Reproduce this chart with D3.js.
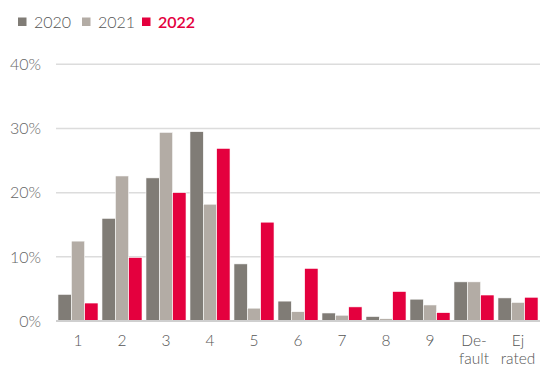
<!DOCTYPE html>
<html>
<head>
<meta charset="utf-8">
<script src="https://cdn.jsdelivr.net/npm/d3@7"></script>
<style>
  html, body { margin: 0; padding: 0; background: #fff; }
  svg { display: block; font-family: "Lato", "Open Sans", sans-serif; }
</style>
</head>
<body>
<svg id="chart" width="540" height="365"></svg>
<script>
// Rating categories (label lines) and share per year, in percent
const categories = [["1"], ["2"], ["3"], ["4"], ["5"], ["6"], ["7"], ["8"], ["9"], ["De-", "fault"], ["Ej", "rated"]];
const years = ["2020", "2021", "2022"];
const values2020 = [4.15, 16.0, 22.3, 29.5, 8.9, 3.1, 1.25, 0.7, 3.4, 6.1, 3.6];
const values2021 = [12.45, 22.6, 29.4, 18.2, 2.0, 1.45, 0.9, 0.35, 2.5, 6.1, 2.9];
const values2022 = [2.8, 9.9, 20.0, 26.9, 15.4, 8.2, 2.2, 4.6, 1.3, 4.05, 3.7];
const yTicks = [0, 10, 20, 30, 40];

const colors = { "2020": "#807c76", "2021": "#b3aca5", "2022": "#e4003e" };
const series = { "2020": values2020, "2021": values2021, "2022": values2022 };

const svg = d3.select("#chart");
const margin = { left: 56, right: 0 };
const width = 540;
const plotBottom = 321, plotTop = 64.3;

const keys = categories.map((c, i) => "c" + i);
const x0 = d3.scaleBand().domain(keys).range([margin.left, width - margin.right])
  .paddingInner(0.09).paddingOuter(0.045);
const x1 = d3.scaleBand().domain(years).range([0, x0.bandwidth()]);
const y = d3.scaleLinear().domain([0, 40]).range([plotBottom, plotTop]);

// Gridlines
svg.append("g").selectAll("line").data(yTicks.filter(t => t > 0)).join("line")
  .attr("x1", margin.left).attr("x2", width)
  .attr("y1", d => y(d)).attr("y2", d => y(d))
  .attr("stroke", "#dcdcdc").attr("stroke-width", 1.5);

// Y tick labels
svg.append("g").selectAll("text").data(yTicks).join("text")
  .attr("x", 41).attr("y", d => y(d)).attr("dy", "0.36em")
  .attr("text-anchor", "end").attr("fill", "#666")
  .attr("font-size", 16).attr("font-weight", 300)
  .text(d => d + "%");

// Bars
const groups = svg.append("g").selectAll("g").data(keys).join("g")
  .attr("transform", d => `translate(${x0(d)},0)`);
groups.selectAll("rect").data((d, i) => years.map(yr => ({ yr, v: series[yr][i] }))).join("rect")
  .attr("x", d => x1(d.yr)).attr("width", x1.bandwidth())
  .attr("y", d => y(d.v)).attr("height", d => y(0) - y(d.v))
  .attr("fill", d => colors[d.yr])
  .attr("stroke", "#fff").attr("stroke-width", 0.6);

// Baseline
svg.append("line").attr("x1", margin.left).attr("x2", width)
  .attr("y1", y(0)).attr("y2", y(0))
  .attr("stroke", "#cfcfcf").attr("stroke-width", 2);

// X tick labels, one text per line
const lineData = [];
categories.forEach((c, i) => c.forEach((t, j) => lineData.push({ t, j, cx: x0(keys[i]) + x0.bandwidth() / 2 })));
svg.append("g").selectAll("text").data(lineData).join("text")
  .attr("x", d => d.cx)
  .attr("y", d => d.j === 0 ? 345.5 : 363.5)
  .attr("text-anchor", "middle")
  .attr("fill", "#555").attr("font-size", 15.5).attr("font-weight", 300)
  .text(d => d.t);

// Legend
const legendX = [18, 82, 142];
const lg = svg.append("g").selectAll("g").data(years).join("g")
  .attr("transform", (d, i) => `translate(${legendX[i]},0)`);
lg.append("rect").attr("x", 0).attr("y", 17.5).attr("width", 8.5).attr("height", 8.5)
  .attr("fill", d => colors[d]);
lg.append("text").attr("x", 16).attr("y", 28)
  .attr("font-size", 16)
  .attr("font-weight", d => d === "2022" ? 600 : 300)
  .attr("fill", d => d === "2022" ? colors["2022"] : "#555")
  .text(d => d);
</script>
</body>
</html>
